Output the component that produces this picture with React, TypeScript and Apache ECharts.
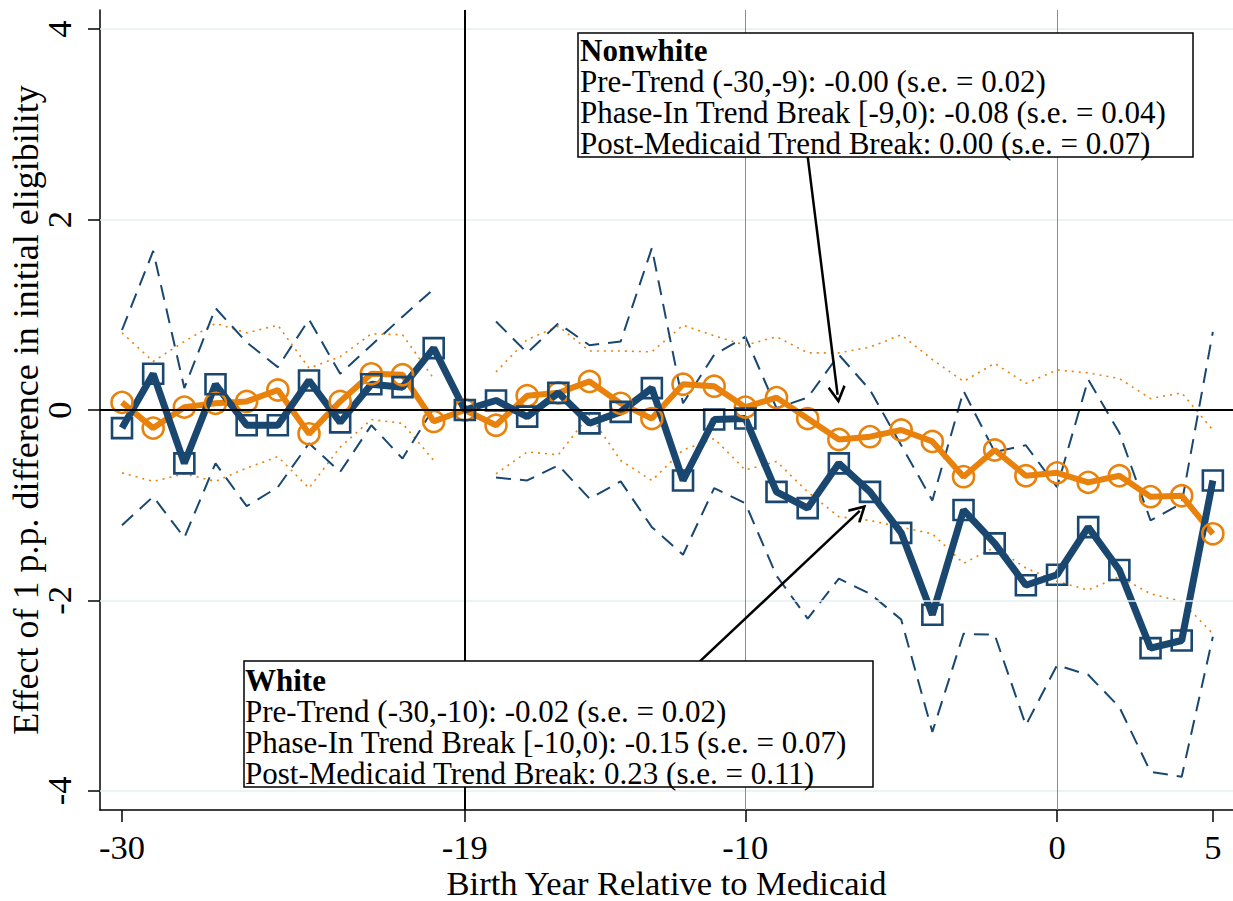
import React, { useEffect, useRef } from "react";
import * as echarts from "echarts";

const years = [-30, -29, -28, -27, -26, -25, -24, -23, -22, -21, -20, -19, -18, -17, -16, -15, -14, -13, -12, -11, -10, -9, -8, -7, -6, -5, -4, -3, -2, -1, 0, 1, 2, 3, 4, 5];

const whiteEst = [-0.19, 0.38, -0.56, 0.27, -0.16, -0.16, 0.31, -0.13, 0.27, 0.24, 0.65, 0, 0.10, -0.07, 0.18, -0.14, -0.02, 0.23, -0.74, -0.10, -0.09, -0.86, -1.03, -0.56, -0.86, -1.29, -2.15, -1.05, -1.40, -1.84, -1.73, -1.23, -1.68, -2.50, -2.42, -0.74];
const whiteUpper = [0.84, 1.67, 0.23, 1.07, 0.71, 0.45, 0.95, 0.38, 0.68, 0.98, 1.27, null, 0.93, 0.60, 0.91, 0.68, 0.72, 1.70, 0.07, 0.58, 0.77, 0.02, 0.13, 0.58, 0.21, -0.37, -0.95, 0.20, -0.44, -0.37, -0.81, 0.32, -0.24, -1.16, -0.98, 0.82];
const whiteLower = [-1.21, -0.91, -1.34, -0.56, -1.01, -0.81, -0.35, -0.65, -0.16, -0.51, 0.02, null, -0.71, -0.74, -0.58, -0.93, -0.75, -1.23, -1.52, -0.82, -0.98, -1.74, -2.19, -1.77, -1.93, -2.20, -3.38, -2.35, -2.36, -3.31, -2.68, -2.78, -3.12, -3.80, -3.85, -2.38];

const nonwhiteEst = [0.08, -0.19, 0.03, 0.07, 0.09, 0.21, -0.25, 0.09, 0.38, 0.37, -0.12, 0, -0.16, 0.15, 0.18, 0.30, 0.07, -0.09, 0.27, 0.25, 0.03, 0.13, -0.09, -0.31, -0.28, -0.21, -0.33, -0.70, -0.42, -0.69, -0.66, -0.76, -0.69, -0.91, -0.90, -1.30];
const nonwhiteUpper = [0.81, 0.51, 0.72, 0.91, 0.81, 0.89, 0.44, 0.56, 0.80, 0.79, 0.33, null, 0.40, 0.74, 0.88, 0.62, 0.62, 0.61, 0.89, 0.78, 0.68, 0.77, 0.60, 0.60, 0.66, 0.79, 0.53, 0.30, 0.49, 0.28, 0.42, 0.39, 0.33, 0.12, 0.18, -0.21];
const nonwhiteLower = [-0.66, -0.75, -0.67, -0.75, -0.61, -0.49, -0.82, -0.39, -0.10, -0.14, -0.53, null, -0.67, -0.44, -0.47, -0.05, -0.53, -0.74, -0.42, -0.30, -0.63, -0.54, -0.86, -1.12, -1.16, -1.23, -1.30, -1.61, -1.44, -1.66, -1.80, -1.89, -1.75, -1.93, -2.01, -2.35];

const xTicks = [-30, -19, -10, 0, 5];
const yTicks = [-4, -2, 0, 2, 4];
const gridLinesY = [-4, -2, 2, 4];
const grayLinesX = [-10, 0];

const xTitle = "Birth Year Relative to Medicaid";
const yTitle = "Effect of 1 p.p. difference in initial eligibility";

const nonwhiteBox = [
  "Pre-Trend (-30,-9): -0.00 (s.e. = 0.02)",
  "Phase-In Trend Break [-9,0): -0.08 (s.e. = 0.04)",
  "Post-Medicaid Trend Break: 0.00 (s.e. = 0.07)",
];
const whiteBox = [
  "Pre-Trend (-30,-10): -0.02 (s.e. = 0.02)",
  "Phase-In Trend Break [-10,0): -0.15 (s.e. = 0.07)",
  "Post-Medicaid Trend Break: 0.23 (s.e. = 0.11)",
];

const NAVY = "#1a476f";
const ORANGE = "#e8820c";
const FONT = "'Liberation Serif', 'Times New Roman', serif";

const pairs = (arr: (number | null)[]) => years.map((x, i) => [x, arr[i] === null ? "-" : arr[i]]);

const chevron = "path://M5,0 L10,9 L8.9,10 L5,3 L1.1,10 L0,9 Z";

export default function App() {
  const ref = useRef<HTMLDivElement>(null);
  useEffect(() => {
    const chart = echarts.init(ref.current!, null, { renderer: "svg" });
    const option: any = {
      animation: false,
      backgroundColor: "#ffffff",
      grid: { left: 100, right: 0, top: 10, bottom: 91, outerBoundsMode: "none", containLabel: false },
      xAxis: {
        type: "value",
        min: -30.706,
        max: 5.646,
        splitLine: { show: false },
        axisLine: { show: true, onZero: false, lineStyle: { color: "#000", width: 1.5 } },
        axisTick: { show: true, length: 12, customValues: xTicks, lineStyle: { color: "#000", width: 1.5 } },
        axisLabel: { customValues: xTicks, fontFamily: FONT, fontSize: 34.5, color: "#000", margin: 19 },
        name: xTitle,
        nameLocation: "middle",
        nameGap: 56,
        nameMoveOverlap: false,
        nameTextStyle: { fontFamily: FONT, fontSize: 34.5, lineHeight: 34, color: "#000" },
      },
      yAxis: {
        type: "value",
        min: -4.2,
        max: 4.2,
        splitLine: { show: false },
        axisLine: { show: true, onZero: false, lineStyle: { color: "#000", width: 1.5 } },
        axisTick: { show: true, length: 12, customValues: yTicks, lineStyle: { color: "#000", width: 1.5 } },
        axisLabel: { customValues: yTicks, rotate: 90, fontFamily: FONT, fontSize: 34.5, color: "#000", margin: 24 },
        name: yTitle,
        nameLocation: "middle",
        nameGap: 56,
        nameMoveOverlap: false,
        nameRotate: 90,
        nameTextStyle: { fontFamily: FONT, fontSize: 36, lineHeight: 36, color: "#000" },
      },
      series: [
        {
          type: "line",
          data: [],
          silent: true,
          markLine: {
            silent: true,
            symbol: ["none", "none"],
            label: { show: false },
            animation: false,
            data: [
              ...gridLinesY.map((v) => ({ yAxis: v, lineStyle: { color: "#e6eff1", width: 1.5, type: "solid" } })),
              ...grayLinesX.map((v) => ({ xAxis: v, lineStyle: { color: "#8c8c8c", width: 1, type: "solid" } })),
              { yAxis: 0, lineStyle: { color: "#000", width: 2, type: "solid" } },
              { xAxis: -19, lineStyle: { color: "#000", width: 2, type: "solid" } },
            ],
          },
        },
        {
          type: "line",
          data: pairs(nonwhiteUpper),
          showSymbol: false,
          connectNulls: false,
          silent: true,
          lineStyle: { color: ORANGE, width: 1.6, type: [2, 5] },
        },
        {
          type: "line",
          data: pairs(nonwhiteLower),
          showSymbol: false,
          connectNulls: false,
          silent: true,
          lineStyle: { color: ORANGE, width: 1.6, type: [2, 5] },
        },
        {
          type: "line",
          data: pairs(whiteUpper),
          showSymbol: false,
          connectNulls: false,
          silent: true,
          lineStyle: { color: NAVY, width: 2, type: [15, 9] },
        },
        {
          type: "line",
          data: pairs(whiteLower),
          showSymbol: false,
          connectNulls: false,
          silent: true,
          lineStyle: { color: NAVY, width: 2, type: [15, 9] },
        },
        {
          type: "line",
          data: pairs(nonwhiteEst),
          symbol: "circle",
          symbolSize: 21,
          showAllSymbol: true,
          silent: true,
          lineStyle: { color: ORANGE, width: 6 },
          itemStyle: { color: "rgba(255,255,255,0)", borderColor: ORANGE, borderWidth: 2.6 },
        },
        {
          type: "line",
          data: pairs(whiteEst),
          symbol: "rect",
          symbolSize: 20,
          showAllSymbol: true,
          silent: true,
          lineStyle: { color: NAVY, width: 7 },
          itemStyle: { color: "rgba(255,255,255,0)", borderColor: NAVY, borderWidth: 2.6 },
        },
        {
          type: "line",
          data: [],
          silent: true,
          markLine: {
            silent: true,
            label: { show: false },
            animation: false,
            data: [
              [
                { coord: [-8.0, 2.66], symbol: "none", lineStyle: { color: "#000", width: 2.5, type: "solid" } },
                { coord: [-7.04, 0.16], symbol: chevron, symbolSize: 18 },
              ],
              [
                { coord: [-11.46, -2.64], symbol: "none", lineStyle: { color: "#000", width: 2.5, type: "solid" } },
                { coord: [-6.33, -1.06], symbol: chevron, symbolSize: 18 },
              ],
            ],
          },
        },
      ],
      graphic: [
        {
          type: "rect",
          z: 100,
          shape: { x: 578, y: 33, width: 615, height: 124 },
          style: { fill: "#fff", stroke: "#000", lineWidth: 1.5 },
        },
        {
          type: "text",
          z: 101,
          x: 580,
          y: 35,
          style: {
            text: "{b|Nonwhite}\n" + nonwhiteBox.join("\n"),
            fontFamily: FONT,
            fontSize: 31,
            lineHeight: 31,
            fill: "#000",
            rich: { b: { fontFamily: FONT, fontSize: 31, fontWeight: "bold", lineHeight: 31 } },
          },
        },
        {
          type: "rect",
          z: 100,
          shape: { x: 244, y: 661, width: 629, height: 126 },
          style: { fill: "#fff", stroke: "#000", lineWidth: 1.5 },
        },
        {
          type: "text",
          z: 101,
          x: 245,
          y: 665,
          style: {
            text: "{b|White}\n" + whiteBox.join("\n"),
            fontFamily: FONT,
            fontSize: 31,
            lineHeight: 31,
            fill: "#000",
            rich: { b: { fontFamily: FONT, fontSize: 31, fontWeight: "bold", lineHeight: 31 } },
          },
        },
      ],
    };
    chart.setOption(option);
    return () => chart.dispose();
  }, []);
  return (
    <div
      ref={ref}
      style={{ position: "fixed", left: 0, top: 0, width: 1233, height: 901, background: "#fff" }}
    />
  );
}
